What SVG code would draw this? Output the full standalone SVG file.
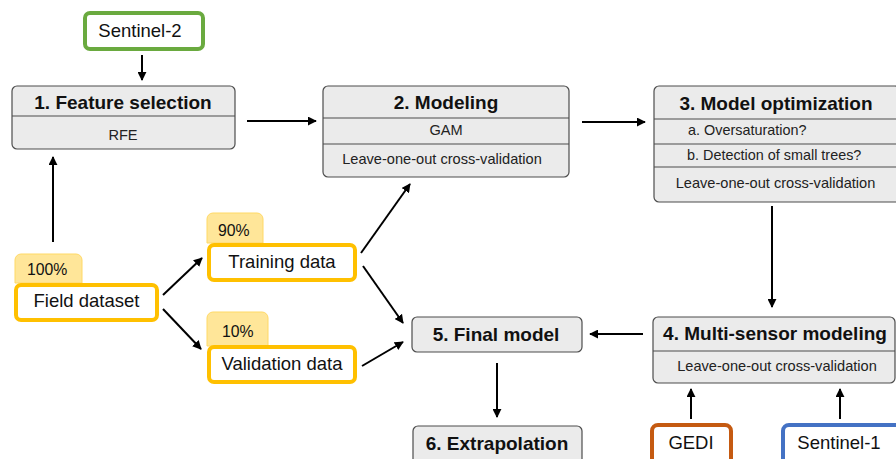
<svg xmlns="http://www.w3.org/2000/svg" width="896" height="459" viewBox="0 0 896 459">
<style>
.box{fill:#ebebeb;stroke:#4d4d4d;stroke-width:1.2}
.div{stroke:#4d4d4d;stroke-width:1.2}
.t{font-family:"Liberation Sans",Arial,sans-serif;font-weight:bold;font-size:19px;fill:#111;text-anchor:middle}
.s{font-family:"Liberation Sans",Arial,sans-serif;font-size:14.6px;fill:#222;text-anchor:middle}
.sl{font-family:"Liberation Sans",Arial,sans-serif;font-size:14.4px;fill:#222}
.d{font-family:"Liberation Sans",Arial,sans-serif;font-size:18.5px;fill:#111;text-anchor:middle}
.p{font-family:"Liberation Sans",Arial,sans-serif;font-size:15.8px;fill:#111}
.yb{fill:#fff;stroke:#ffc000;stroke-width:4}
.tab{fill:#ffe699;stroke:#ffd966;stroke-width:1}
.c line{stroke:#000;stroke-width:2;marker-end:url(#ah)}
</style>
<defs>
<marker id="ah" viewBox="0 0 10 10" refX="9" refY="5" markerWidth="4.5" markerHeight="4.5" orient="auto" markerUnits="strokeWidth">
<path d="M0,0 L10,5 L0,10 z" fill="#000"/>
</marker>
</defs>
<rect width="896" height="459" fill="#fff"/>

<g id="sentinel2">
<rect x="85" y="13" width="118" height="36" rx="5" fill="#fff" stroke="#6aaa3f" stroke-width="4"/>
<text class="d" x="140" y="37">Sentinel-2</text>
</g>

<g id="feature-selection">
<rect class="box" x="12" y="86" width="223" height="63" rx="5"/>
<line class="div" x1="12" y1="116" x2="235" y2="116"/>
<text class="t" x="123" y="109">1. Feature selection</text>
<text class="s" x="123" y="140">RFE</text>
</g>

<g id="modeling">
<rect class="box" x="323" y="86" width="246" height="91" rx="5"/>
<line class="div" x1="323" y1="118" x2="569" y2="118"/>
<line class="div" x1="323" y1="144" x2="569" y2="144"/>
<text class="t" x="446" y="109">2. Modeling</text>
<text class="s" x="446" y="135">GAM</text>
<text class="s" x="442" y="164">Leave-one-out cross-validation</text>
</g>

<g id="model-optimization">
<rect class="box" x="654" y="86" width="246" height="116" rx="5"/>
<line class="div" x1="654" y1="119" x2="900" y2="119"/>
<line class="div" x1="654" y1="144" x2="900" y2="144"/>
<line class="div" x1="654" y1="167" x2="900" y2="167"/>
<text class="t" x="776" y="110">3. Model optimization</text>
<text class="sl" x="688" y="135">a. Oversaturation?</text>
<text class="sl" x="687" y="160">b. Detection of small trees?</text>
<text class="s" x="775.5" y="188">Leave-one-out cross-validation</text>
</g>

<g id="multi-sensor">
<rect class="box" x="653" y="317" width="242" height="66" rx="5"/>
<line class="div" x1="653" y1="351" x2="895" y2="351"/>
<text class="t" x="775" y="340">4. Multi-sensor modeling</text>
<text class="s" x="777" y="371">Leave-one-out cross-validation</text>
</g>

<g id="final-model">
<rect class="box" x="412" y="317" width="170" height="35" rx="5"/>
<text class="t" x="496" y="341">5. Final model</text>
</g>

<g id="extrapolation">
<rect class="box" x="413" y="426" width="169" height="45" rx="5"/>
<text class="t" x="497" y="450">6. Extrapolation</text>
</g>

<g id="gedi">
<rect x="652" y="425" width="79" height="45" rx="6" fill="#fff" stroke="#c55a11" stroke-width="4"/>
<text class="d" x="691" y="449">GEDI</text>
</g>

<g id="sentinel1">
<rect x="783" y="425" width="125" height="45" rx="6" fill="#fff" stroke="#4472c4" stroke-width="4"/>
<text class="d" x="839" y="449">Sentinel-1</text>
</g>

<g id="field-dataset">
<path class="tab" d="M15,283 V260 a6,6 0 0 1 6,-6 H76 a6,6 0 0 1 6,6 V283 z"/>
<text class="p" x="27" y="275">100%</text>
<rect class="yb" x="16" y="285" width="141" height="35" rx="5"/>
<text class="d" x="86.5" y="307">Field dataset</text>
</g>

<g id="training-data">
<path class="tab" d="M207,243 V219 a6,6 0 0 1 6,-6 H257 a6,6 0 0 1 6,6 V243 z"/>
<text class="p" x="218" y="236">90%</text>
<rect class="yb" x="209" y="245" width="146" height="35" rx="5"/>
<text class="d" x="282" y="268">Training data</text>
</g>

<g id="validation-data">
<path class="tab" d="M207,346 V318 a6,6 0 0 1 6,-6 H262 a6,6 0 0 1 6,6 V346 z"/>
<text class="p" x="222" y="337">10%</text>
<rect class="yb" x="209" y="347" width="146" height="35" rx="5"/>
<text class="d" x="282" y="370">Validation data</text>
</g>

<g id="connectors" class="c">
<line x1="142" y1="55" x2="142" y2="80"/>
<line x1="53" y1="242" x2="53" y2="157"/>
<line x1="247" y1="121" x2="316" y2="121"/>
<line x1="582" y1="122" x2="645" y2="122"/>
<line x1="772" y1="206" x2="772" y2="307"/>
<line x1="643" y1="334" x2="590" y2="334"/>
<line x1="497" y1="363" x2="497" y2="417"/>
<line x1="691" y1="419" x2="691" y2="389"/>
<line x1="840" y1="419" x2="840" y2="389"/>
<line x1="163" y1="295" x2="202" y2="258"/>
<line x1="163" y1="309" x2="201" y2="349"/>
<line x1="361" y1="253" x2="410" y2="184"/>
<line x1="363" y1="266" x2="403" y2="323"/>
<line x1="362" y1="366" x2="403" y2="342"/>
</g>
</svg>
